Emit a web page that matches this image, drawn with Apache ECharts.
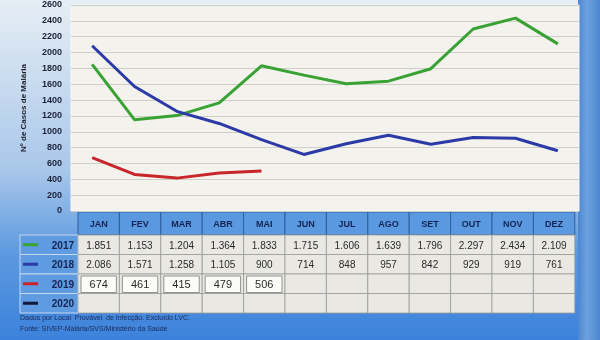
<!DOCTYPE html>
<html><head><meta charset="utf-8">
<script src="https://cdn.jsdelivr.net/npm/echarts@6/dist/echarts.min.js"></script>
<style>html,body{margin:0;padding:0;}#c{width:600px;height:340px;}</style>
</head><body><div id="c"></div>
<script>
const months = ['JAN','FEV','MAR','ABR','MAI','JUN','JUL','AGO','SET','OUT','NOV','DEZ'];
const years = ['2017','2018','2019','2020'];
const v2017 = [1851,1153,1204,1364,1833,1715,1606,1639,1796,2297,2434,2109];
const v2018 = [2086,1571,1258,1105,900,714,848,957,842,929,919,761];
const v2019 = [674,461,415,479,506];
const v2020 = [];
const yMin = 0, yMax = 2600, yStep = 200;
const colors = ['#3aa235','#2b3aa6','#c9252b','#101a3a'];
const yTitle = 'Nº de Casos de Malária';
const foot1 = 'Dados por Local  Provável  de Infecção. Excluído LVC.';
const foot2 = 'Fonte: SIVEP-Malária/SVS/Ministério da Saúde';

const allSeries = [v2017, v2018, v2019, v2020];
function fmt(n){ const s = String(n); return n >= 1000 ? s.slice(0, s.length-3) + '.' + s.slice(-3) : s; }

const chart = echarts.init(document.getElementById('c'), null, {renderer:'canvas'});
const FONT = 'Liberation Sans, Arial, sans-serif';

// table layout
const tx0 = 78, cw = 41.4, hy = 212, hh = 23, rh = 19.5, lx = 20;
const g = [];
g.push({type:'rect', z:-10, shape:{x:0,y:0,width:600,height:340}, style:{fill:new echarts.graphic.LinearGradient(0,0,0,1,[{offset:0,color:'#e6eef5'},{offset:0.5,color:'#a9c7ea'},{offset:0.75,color:'#5b98df'},{offset:1,color:'#3c82dc'}])}, silent:true});
g.push({type:'rect', z:-9, shape:{x:578,y:0,width:22,height:340}, style:{fill:new echarts.graphic.LinearGradient(1,0,0,0,[{offset:0,color:'#4d86cf'},{offset:0.6,color:'#6ea2de'},{offset:1,color:'#4b86d2'}])}, silent:true});
months.forEach((m,i)=>{
  g.push({type:'rect', shape:{x:tx0+i*cw, y:hy, width:cw, height:hh}, style:{fill:'#5a98e0', stroke:'#2f5f9e', lineWidth:1}});
  g.push({type:'text', x:tx0+i*cw+cw/2, y:hy+hh/2+1, style:{text:m, fill:'#142452', font:'bold 9px '+FONT, align:'center', verticalAlign:'middle'}});
});
years.forEach((yr,r)=>{
  const y = hy+hh+r*rh;
  g.push({type:'rect', shape:{x:lx, y:y, width:tx0-lx, height:rh}, style:{fill:'#5f9be0', stroke:'#c4d8f0', lineWidth:1}});
  g.push({type:'line', shape:{x1:lx+3, y1:y+rh/2, x2:lx+18, y2:y+rh/2}, style:{stroke:colors[r], lineWidth:3}});
  g.push({type:'text', x:tx0-4, y:y+rh/2+1, style:{text:yr, fill:'#142452', font:'bold 10px '+FONT, align:'right', verticalAlign:'middle'}});
  months.forEach((m,i)=>{
    g.push({type:'rect', shape:{x:tx0+i*cw, y:y, width:cw, height:rh}, style:{fill:'#e9e8e3', stroke:'#9c9c98', lineWidth:0.8}});
    const v = allSeries[r][i];
    if (v !== undefined) {
      if (r === 2) g.push({type:'rect', shape:{x:tx0+i*cw+3, y:y+2, width:cw-6, height:rh-3}, style:{fill:'#fbfbf8', stroke:'#7a7a76', lineWidth:0.8}});
      g.push({type:'text', x:tx0+i*cw+cw/2, y:y+rh/2+1, style:{text:fmt(v), fill:'#2a2a2a', font:(r===2?'11px ':'10px ')+FONT, align:'center', verticalAlign:'middle'}});
    }
  });
});
g.push({type:'text', x:20, y:318, style:{text:foot1, fill:'#1c2a55', font:'7px '+FONT, verticalAlign:'middle'}});
g.push({type:'text', x:20, y:329, style:{text:foot2, fill:'#1c2a55', font:'7px '+FONT, verticalAlign:'middle'}});

const option = {
  animation:false,
  textStyle:{fontFamily:FONT},
  grid:{left:71, right:21, top:5, bottom:129, show:true, backgroundColor:'#f3f2ec', borderColor:'#f8f8f6', borderWidth:1},
  xAxis:{type:'category', data:months, boundaryGap:true, axisLine:{show:false}, axisTick:{show:false}, axisLabel:{show:false}},
  yAxis:{type:'value', min:yMin, max:yMax, interval:yStep,
    name:yTitle, nameLocation:'middle', nameGap:43, nameTextStyle:{color:'#1c1c2c', fontSize:8, fontWeight:'bold'},
    axisLine:{show:false}, axisTick:{show:false},
    axisLabel:{color:'#1c2238', fontSize:9, fontWeight:'bold', margin:9, formatter:(v)=>String(v)},
    splitLine:{lineStyle:{color:'#cfcfca', width:1}}},
  series:[
    {name:'2017', type:'line', data:v2017, symbol:'none', lineStyle:{color:colors[0], width:3}, itemStyle:{color:colors[0]}},
    {name:'2018', type:'line', data:v2018, symbol:'none', lineStyle:{color:colors[1], width:3}, itemStyle:{color:colors[1]}},
    {name:'2019', type:'line', data:v2019, symbol:'none', lineStyle:{color:colors[2], width:3}, itemStyle:{color:colors[2]}},
    {name:'2020', type:'line', data:v2020, symbol:'none', lineStyle:{color:colors[3], width:3}}
  ],
  graphic:{elements:g}
};
chart.setOption(option);
</script></body></html>
